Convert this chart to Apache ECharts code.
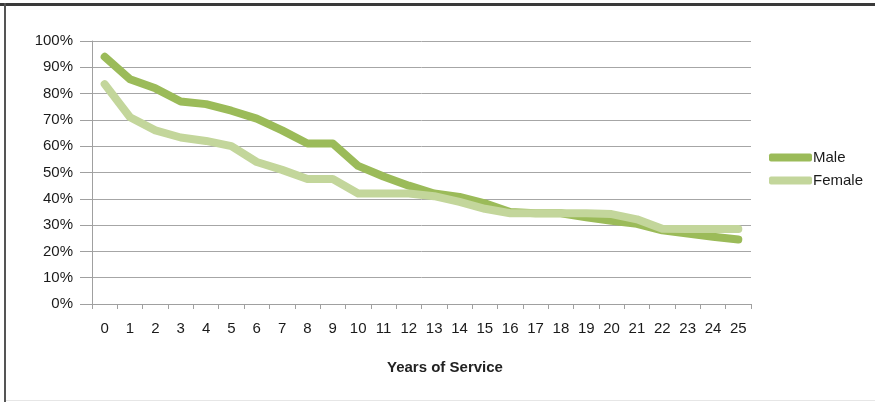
<!DOCTYPE html>
<html>
<head>
<meta charset="utf-8">
<script src="https://cdn.jsdelivr.net/npm/echarts@6/dist/echarts.min.js"></script>
<style>
html,body{margin:0;padding:0;background:#fff;}
#chart{width:875px;height:402px;}
</style>
</head>
<body>
<div id="chart"></div>
<script>
var years = ['0','1','2','3','4','5','6','7','8','9','10','11','12','13','14','15','16','17','18','19','20','21','22','23','24','25'];
var male = [94, 85.5, 82, 77, 76, 73.5, 70.5, 66, 61, 61, 52.5, 48.5, 45, 42, 40.7, 38.3, 35, 34.5, 34.5, 33, 31.6, 30.5, 28, 26.8, 25.6, 24.5];
var female = [83.6, 71, 66, 63.3, 62, 60, 54, 51, 47.5, 47.5, 42, 42, 42, 41, 38.8, 36.2, 34.5, 34.5, 34.5, 34.5, 34.2, 32.2, 28.6, 28.5, 28.5, 28.5];
var yTicks = [0, 10, 20, 30, 40, 50, 60, 70, 80, 90, 100];

var chart = echarts.init(document.getElementById('chart'));
var font = 'Liberation Sans, Arial, sans-serif';
chart.setOption({
  animation: false,
  backgroundColor: '#ffffff',
  grid: {left: 92, right: 124, top: 41, bottom: 98, containLabel: false},
  title: {
    text: 'Years of Service',
    left: 382, top: 355,
    textStyle: {fontFamily: font, fontSize: 15, fontWeight: 'bold', color: '#222'}
  },
  legend: {
    orient: 'vertical',
    left: 764, top: 145,
    itemWidth: 43, itemHeight: 8, itemGap: 8,
    icon: 'roundRect',
    textStyle: {fontFamily: font, fontSize: 15, color: '#1a1a1a', padding: [0,0,0,-4]},
    data: ['Male', 'Female']
  },
  xAxis: {
    type: 'category',
    data: years,
    boundaryGap: true,
    axisLine: {lineStyle: {color: '#a0a0a0', width: 1}},
    axisTick: {show: true, length: 5, interval: 0, lineStyle: {color: '#a0a0a0'}},
    axisLabel: {interval: 0, margin: 17, fontFamily: font, fontSize: 15, color: '#1a1a1a'}
  },
  yAxis: {
    type: 'value',
    min: yTicks[0], max: yTicks[yTicks.length-1], interval: 10,
    axisLine: {show: true, lineStyle: {color: '#a0a0a0', width: 1}},
    axisTick: {show: true, length: 12, lineStyle: {color: '#a0a0a0'}},
    splitLine: {lineStyle: {color: '#a6a6a6', width: 1}},
    axisLabel: {margin: 19, fontFamily: font, fontSize: 15, color: '#1a1a1a', formatter: '{value}%'}
  },
  series: [
    {
      name: 'Male', type: 'line', data: male,
      symbol: 'none', z: 3,
      itemStyle: {color: '#9bbb59'},
      lineStyle: {color: '#9bbb59', width: 8, cap: 'round', join: 'round'}
    },
    {
      name: 'Female', type: 'line', data: female,
      symbol: 'none', z: 4,
      itemStyle: {color: '#c3d69b'},
      lineStyle: {color: '#c3d69b', width: 8, cap: 'round', join: 'round'}
    }
  ],
  graphic: [
    {type: 'rect', shape: {x: 0, y: 3, width: 875, height: 3}, style: {fill: '#3a3a3a'}, silent: true},
    {type: 'rect', shape: {x: 4, y: 3, width: 2, height: 399}, style: {fill: '#555'}, silent: true},
    {type: 'rect', shape: {x: 6, y: 400, width: 869, height: 1}, style: {fill: '#e6e6e6'}, silent: true}
  ]
});
</script>
</body>
</html>
